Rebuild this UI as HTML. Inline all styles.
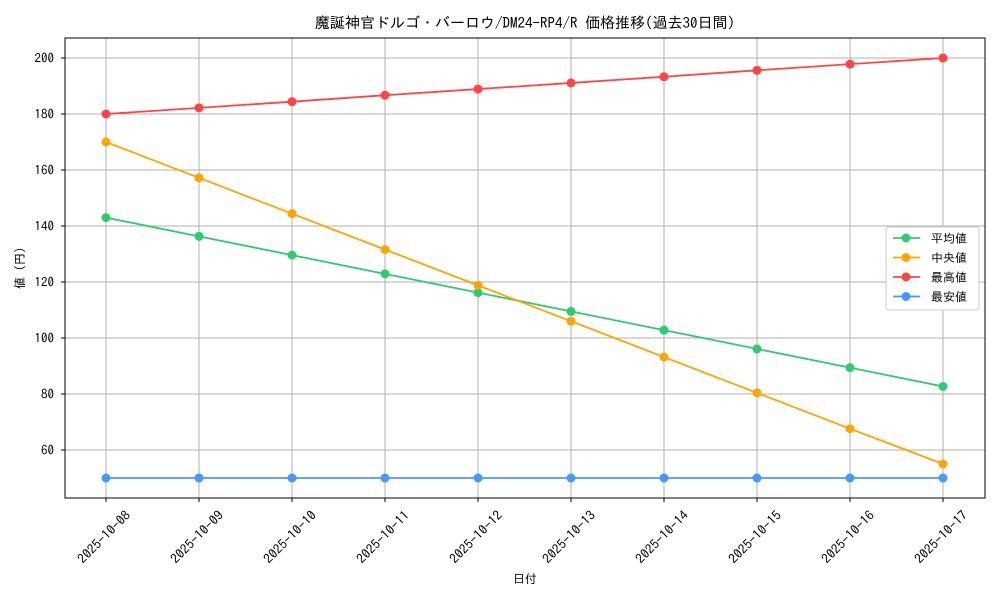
<!DOCTYPE html>
<html><head><meta charset="utf-8"><style>
body{margin:0;background:#fff}
svg text{font-family:"IPAGothic","Noto Sans CJK JP",monospace;fill:#000}
</style></head><body>
<svg id="chart" width="1000" height="600" xmlns="http://www.w3.org/2000/svg">
<rect width="1000" height="600" fill="#fff"/>
<text x="525" y="28" font-size="15" text-anchor="middle">魔誕神官ドルゴ・バーロウ/DM24-RP4/R 価格推移(過去30日間)</text>
<g id="grid"></g><g id="axes"></g><g id="series"></g>
<text x="525" y="583" font-size="12" text-anchor="middle">日付</text>
<text transform="translate(24,268) rotate(-90)" font-size="12" text-anchor="middle">値 (円)</text>
<g id="legend"></g>
</svg>
<script>
const categories=["2025-10-08","2025-10-09","2025-10-10","2025-10-11","2025-10-12","2025-10-13","2025-10-14","2025-10-15","2025-10-16","2025-10-17"];
const avgValues=[143,136.3,129.6,122.9,116.2,109.5,102.8,96.1,89.4,82.7];
const medianValues=[170,157.2,144.4,131.6,118.8,106,93.2,80.4,67.6,55];
const maxValues=[180,182.2,184.4,186.7,188.9,191.1,193.3,195.6,197.8,200];
const minValues=[50,50,50,50,50,50,50,50,50,50];
const yTicks=[60,80,100,120,140,160,180,200];
const seriesNames=["平均値","中央値","最高値","最安値"];
const NS="http://www.w3.org/2000/svg";
const L=65,R=985,T=38,B=498;
function xs(i){return 106+i*(943-106)/(categories.length-1);}
function ys(v){return 58+(200-v)*2.8;}
function mk(tag,attrs,parent){const e=document.createElementNS(NS,tag);for(const k in attrs)e.setAttribute(k,attrs[k]);parent.appendChild(e);return e;}
const grid=document.getElementById('grid'),axes=document.getElementById('axes'),ser=document.getElementById('series'),leg=document.getElementById('legend');
categories.forEach((c,i)=>{
  const g=mk('line',{x1:xs(i),x2:xs(i),y1:T,y2:B,stroke:'#b0b0b0','stroke-width':1},grid);
  
  
  mk('line',{x1:xs(i),x2:xs(i),y1:B,y2:B+4,stroke:'#000'},axes);
  const cx=xs(i)-2,cy=B+39;
  const t=mk('text',{x:cx,y:cy+4.5,'font-size':13,'text-anchor':'middle',textLength:68,lengthAdjust:'spacingAndGlyphs',transform:`rotate(-45 ${cx} ${cy})`},axes);
  t.textContent=c;
  
  
});
yTicks.forEach(v=>{
  const g=mk('line',{x1:L,x2:R,y1:ys(v),y2:ys(v),stroke:'#b0b0b0','stroke-width':1},grid);
  
  
  mk('line',{x1:L-4,x2:L,y1:ys(v),y2:ys(v),stroke:'#000'},axes);
  const t=mk('text',{x:L-11,y:ys(v)+4.5,'font-size':13,'text-anchor':'end'},axes);
  t.textContent=v;
  
  
});
const frame=mk('rect',{x:L,y:T,width:R-L,height:B-T,fill:'none',stroke:'#000','stroke-width':1},axes);


const all=[avgValues,medianValues,maxValues,minValues];
const colors=["#2ecc71","#ffa500","#ff4444","#4499ff"];
const keys=["average","median","max","min"];
all.forEach((vals,s)=>{
  const p=mk('polyline',{points:vals.map((v,i)=>xs(i)+','+ys(v)).join(' '),fill:'none',stroke:colors[s],'stroke-width':1.8},ser);
  
  
  vals.forEach((v,i)=>{
    const c=mk('circle',{cx:xs(i),cy:ys(v),r:4.5,fill:colors[s]},ser);
    
    
  });
});
const box=mk('rect',{x:886,y:227,width:93,height:83,fill:'#fff',stroke:'#ccc',rx:3},leg);


seriesNames.forEach((n,s)=>{
  const y=238+s*19.5;
  const l=mk('line',{x1:893,x2:920,y1:y,y2:y,stroke:colors[s],'stroke-width':1.8},leg);
  
  
  mk('circle',{cx:906,cy:y,r:4.5,fill:colors[s]},leg);
  const t=mk('text',{x:931,y:y+4.5,'font-size':12},leg);
  t.textContent=n;
  
  
});
</script>
</body></html>
